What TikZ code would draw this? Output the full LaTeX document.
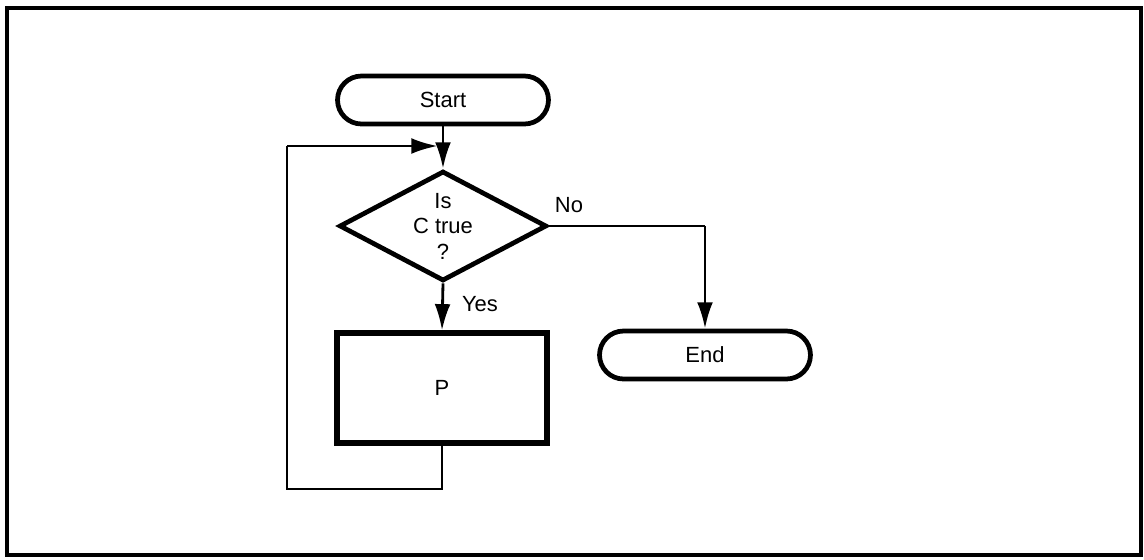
\documentclass[tikz,border=0pt]{standalone}
\usepackage{fontspec}
\setmainfont{Liberation Sans}
\usetikzlibrary{shapes.geometric,shapes.misc,arrows.meta}
\begin{document}
\begin{tikzpicture}[x=0.02cm,y=-0.02cm,
  every node/.style={font=\fontsize{12.5}{14.5}\selectfont},
  term/.style={rounded rectangle,draw,line width=2.7pt,minimum width=4.22cm,minimum height=0.96cm,inner sep=0pt},
  dec/.style={diamond,draw,line width=2.7pt,minimum width=4.15cm,minimum height=2.2cm,aspect=1.9,inner sep=0pt,align=center},
  proc/.style={rectangle,draw,line width=2.9pt,minimum width=4.2cm,minimum height=2.2cm,inner sep=0pt},
  conn/.style={line width=1.6pt},
  arr/.style={conn,-{Latex[length=15pt,width=9pt]}},
  lbl/.style={inner sep=1pt}]
\useasboundingbox (0,0) rectangle (1144,559);
\draw[line width=1.8pt] (7,8) rectangle (1141,555);
\node[term] (start) at (443,100) {Start};
\node[dec] (d) at (443,226) {Is\\C true\\?};
\node[proc] (p) at (442,388) {P};
\node[term] (end) at (705,355) {End};
\coordinate (j) at (d.north |- 0,146);
\coordinate (b1) at (p.south |- 0,489);
\coordinate (b2) at (287,489);
\coordinate (b3) at (287,146);
\coordinate (r1) at (end.north |- d.east);
\draw[arr] (start.south) -- (d.north);
\draw[arr] (d.south) -- (p.north);
\draw[conn] (p.south) -- (b1) -- (b2) -- (b3);
\draw[arr,shorten >=3pt] (b3) -- (j);
\draw[conn] (d.east) -- (r1);
\draw[arr] (r1) -- (end.north);
\node[lbl] (yes) at (480,304) {Yes};
\node[lbl] (no) at (569,205) {No};
\end{tikzpicture}
\end{document}
